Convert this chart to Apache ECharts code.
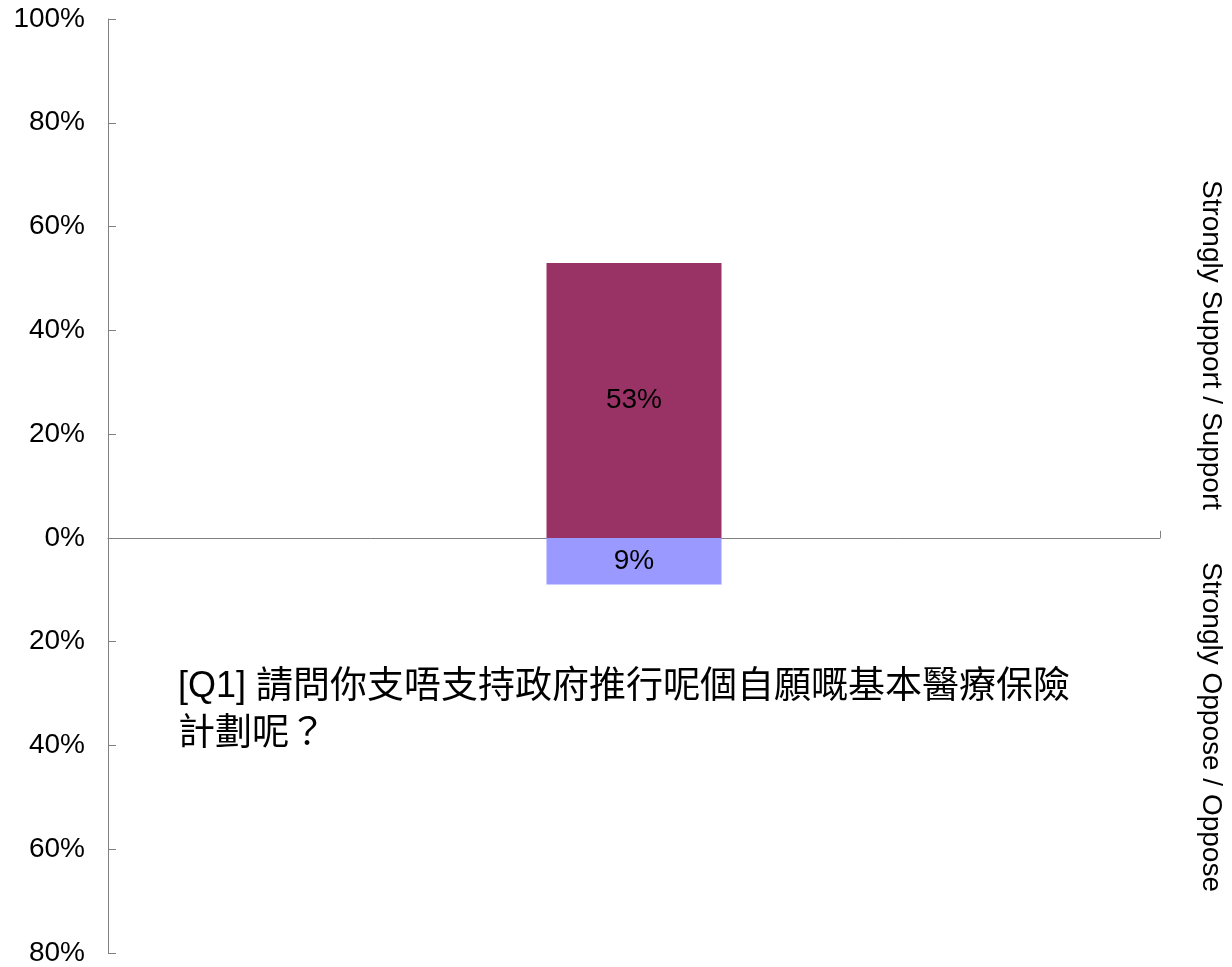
<!DOCTYPE html>
<html>
<head>
<meta charset="utf-8">
<script src="https://cdn.jsdelivr.net/npm/echarts@6/dist/echarts.min.js"></script>
<style>
  html, body { margin: 0; padding: 0; background: #fff; }
  #chart { width: 1232px; height: 967px; }
</style>
</head>
<body>
<div id="chart"></div>
<script>
// Survey question and responses
const categories = ['Q1'];
const supportValues = [53];   // Strongly Support / Support
const opposeValues = [-9];    // Strongly Oppose / Oppose (drawn below zero)
const supportLabel = 'Strongly Support / Support';
const opposeLabel = 'Strongly Oppose / Oppose';
const questionPrefix = '[Q1] ';
const questionLine1 = '請問你支唔支持政府推行呢個自願嘅基本醫療保險';
const questionLine2 = '計劃呢？';

const LATIN = '"Liberation Sans", Arial, sans-serif';
const CJK = '"Liberation Sans", "Noto Sans CJK TC", sans-serif';

const chart = echarts.init(document.getElementById('chart'), null, { renderer: 'canvas' });

const pctLabel = (v) => Math.abs(v) + '%';

chart.setOption({
  animation: false,
  backgroundColor: '#ffffff',
  grid: { left: 108, right: 72, top: 19, bottom: 14, containLabel: false },
  xAxis: {
    type: 'category',
    data: categories,
    boundaryGap: true,
    axisLine: { onZero: true, lineStyle: { color: '#808080', width: 1 } },
    axisTick: { show: true, inside: true, length: 7, lineStyle: { color: '#808080' } },
    axisLabel: { show: false },
    splitLine: { show: false }
  },
  yAxis: {
    type: 'value',
    min: -80,
    max: 100,
    interval: 20,
    axisLine: { show: true, lineStyle: { color: '#808080', width: 1 } },
    axisTick: { show: true, inside: true, length: 8, lineStyle: { color: '#808080' } },
    axisLabel: {
      formatter: pctLabel,
      color: '#000',
      fontFamily: LATIN,
      fontSize: 28,
      margin: 23,
      padding: [3, 0, 0, 0]
    },
    splitLine: { show: false }
  },
  series: [
    {
      name: supportLabel,
      type: 'bar',
      stack: 'total',
      data: supportValues,
      barWidth: 175,
      itemStyle: { color: '#993366' },
      label: {
        show: true,
        position: 'inside',
        formatter: (p) => pctLabel(p.value),
        color: '#000',
        fontFamily: LATIN,
        fontSize: 28
      }
    },
    {
      name: opposeLabel,
      type: 'bar',
      stack: 'total',
      data: opposeValues,
      barWidth: 175,
      itemStyle: { color: '#9999FF' },
      label: {
        show: true,
        position: 'inside',
        formatter: (p) => pctLabel(p.value),
        color: '#000',
        fontFamily: LATIN,
        fontSize: 28
      }
    }
  ],
  graphic: [
    {
      type: 'text',
      x: 1211,
      y: 345,
      rotation: -Math.PI / 2,
      style: {
        text: supportLabel,
        fill: '#000',
        font: '28px ' + LATIN,
        align: 'center',
        verticalAlign: 'middle'
      }
    },
    {
      type: 'text',
      x: 1211,
      y: 727,
      rotation: -Math.PI / 2,
      style: {
        text: opposeLabel,
        fill: '#000',
        font: '28px ' + LATIN,
        align: 'center',
        verticalAlign: 'middle'
      }
    },
    {
      type: 'text',
      left: 178,
      top: 669,
      style: {
        text: '{a|' + questionPrefix + '}{b|' + questionLine1 + '}\n{b|' + questionLine2 + '}',
        fill: '#000',
        rich: {
          a: { fontFamily: LATIN, fontSize: 36, lineHeight: 47, fill: '#000' },
          b: { fontFamily: CJK, fontSize: 37, lineHeight: 47, fill: '#000' }
        }
      }
    }
  ]
});
</script>
</body>
</html>
